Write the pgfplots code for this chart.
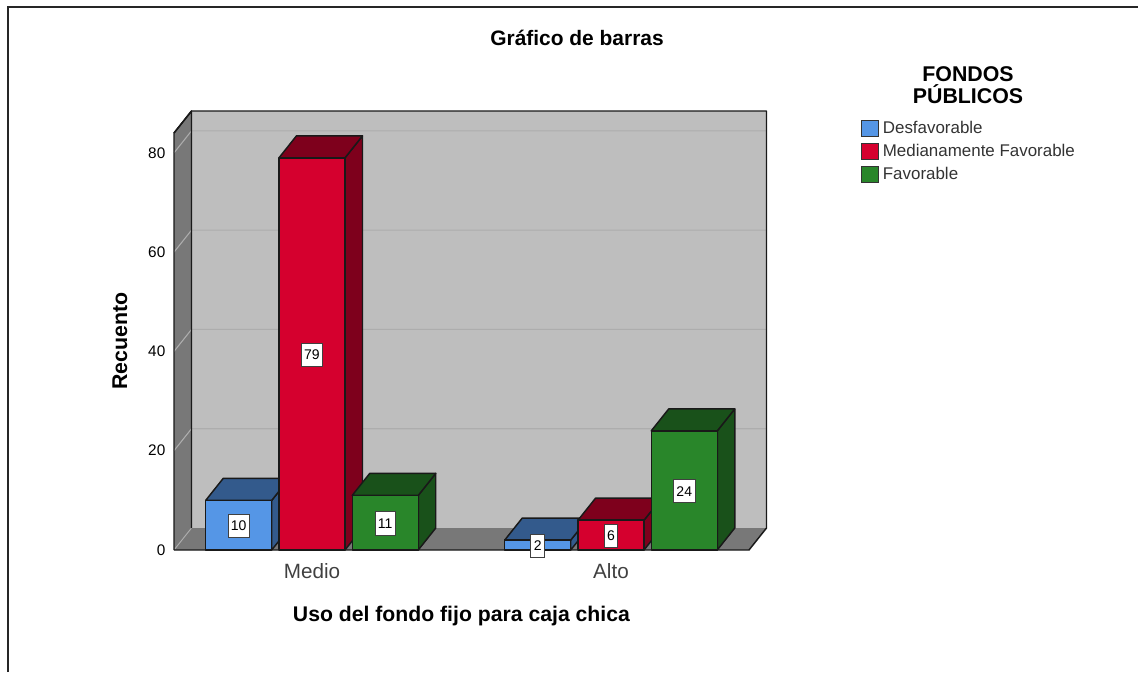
\documentclass[border=0pt]{standalone}
\usepackage{fontspec}
\setmainfont{Liberation Sans}
\usepackage{pgfplots}
\pgfplotsset{compat=1.18}
\definecolor{sblue}{HTML}{5596E6}
\definecolor{sbluedk}{HTML}{335A8C}
\definecolor{sred}{HTML}{D5002E}
\definecolor{sreddk}{HTML}{7E001C}
\definecolor{sgreen}{HTML}{29862A}
\definecolor{sgreendk}{HTML}{19511A}
\definecolor{wall}{HTML}{BEBEBE}
\definecolor{side}{HTML}{787878}
\definecolor{gridc}{HTML}{ADADAD}
\newcommand{\fs}[1]{\fontsize{#1}{#1}\selectfont}
\tikzset{face/.style={draw=black!90,line width=1.1pt,line join=round}}
% depth of the 3D box in axis units
\def\dx{0.0585}
\def\dy{4.43}
% #1 centre of the bar, #2 value, #3 front colour, #4 dark colour
\newcommand{\threedbar}[4]{%
  \pgfmathsetmacro\xl{#1-0.1104}%
  \pgfmathsetmacro\xr{#1+0.1104}%
  \pgfmathsetmacro\xlb{\xl+\dx}%
  \pgfmathsetmacro\xrb{\xr+\dx}%
  \pgfmathsetmacro\yb{#2+\dy}%
  \pgfmathsetmacro\ym{#2/2}%
  \addplot[face,fill=#4,forget plot] coordinates {(\xr,0)(\xrb,\dy)(\xrb,\yb)(\xr,#2)} --cycle;
  \addplot[face,fill=#4,forget plot] coordinates {(\xl,#2)(\xlb,\yb)(\xrb,\yb)(\xr,#2)} --cycle;
  \addplot[face,fill=#3,forget plot] coordinates {(\xl,0)(\xl,#2)(\xr,#2)(\xr,0)} --cycle;
  \addplot[draw=none,forget plot,point meta=explicit symbolic,nodes near coords,
    nodes near coords style={anchor=center,yshift=-0.6pt,fill=white,draw=black!75,line width=0.7pt,
      font=\fs{10.5},text=black,inner xsep=2.2pt,inner ysep=0pt,minimum height=17.5pt}]
    coordinates {(#1,\ym) [#2]};
}
\begin{document}
\begin{tikzpicture}
\path[use as bounding box] (0,0) rectangle (853.5pt,504pt);
\draw[line width=1.5pt,black!85] (6pt,0) -- (6pt,498.75pt) -- (853.5pt,498.75pt);
\begin{axis}[
  at={(130.5pt,91.5pt)}, anchor=south west,
  scale only axis, width=431.25pt, height=312.75pt,
  xmin=-0.4615, xmax=1.4615, ymin=0, ymax=84,
  clip=false, axis line style={draw=none}, major tick length=0pt,
  xtick={0,1}, xticklabels={Medio,Alto},
  ytick={0,20,40,60,80},
  /pgf/number format/assume math mode=true,
  y tick label style={font=\fs{11.5},xshift=-3pt},
  x tick label style={font=\fs{15.5},text=black!75,yshift=-6.8pt},
  title={\textbf{Gráfico de barras}},
  title style={font=\fs{15.7},at={(axis description cs:0.7009,1.2278)},anchor=center,yshift=-6pt},
  xlabel={\textbf{Uso del fondo fijo para caja chica}},
  xlabel style={font=\fs{15.9},at={(axis description cs:0.5,-0.158)},anchor=center},
  ylabel={\textbf{Recuento}},
  ylabel style={font=\fs{16},at={(axis description cs:-0.0939,0.501)},anchor=center,rotate=0},
  legend style={at={(axis description cs:1.1948,1.031)},anchor=north west,draw=none,fill=none,
    inner sep=0pt,row sep=4.5pt,
    nodes={font=\fs{12.7},text=black!80,inner ysep=0pt,inner xsep=3pt,text height=9.3pt,text depth=2.7pt}},
  legend cell align=left,
  legend image code/.code={\draw[#1] (0pt,-6pt) rectangle (12.5pt,6pt);},
]
% walls and floor
\addplot[fill=wall,draw=none,forget plot] coordinates {(-0.403,4.43)(-0.403,88.43)(1.52,88.43)(1.52,4.43)} --cycle;
\addplot[fill=side,draw=none,forget plot] coordinates {(-0.4615,0)(-0.403,4.43)(1.52,4.43)(1.4615,0)} --cycle;
\addplot[fill=side,draw=none,forget plot] coordinates {(-0.4615,0)(-0.4615,84)(-0.403,88.43)(-0.403,4.43)} --cycle;
% grid lines
\addplot[draw=gridc,line width=0.8pt,forget plot] coordinates {(-0.4615,20)(-0.403,24.43)(1.52,24.43)};
\addplot[draw=gridc,line width=0.8pt,forget plot] coordinates {(-0.4615,40)(-0.403,44.43)(1.52,44.43)};
\addplot[draw=gridc,line width=0.8pt,forget plot] coordinates {(-0.4615,60)(-0.403,64.43)(1.52,64.43)};
\addplot[draw=gridc,line width=0.8pt,forget plot] coordinates {(-0.4615,80)(-0.403,84.43)(1.52,84.43)};
\addplot[draw=gridc,line width=0.7pt,forget plot] coordinates {(-0.4615,0)(-0.403,4.43)};
% wall outlines
\addplot[face,forget plot] coordinates {(-0.4615,0)(-0.4615,84)(-0.403,88.43)(1.52,88.43)(1.52,4.43)(1.4615,0)(-0.4615,0)};
\addplot[face,forget plot] coordinates {(-0.4615,84)(-0.403,88.43)(-0.403,4.43)};
% Medio
\threedbar{-0.245}{10}{sblue}{sbluedk}
\threedbar{0}{79}{sred}{sreddk}
\threedbar{0.245}{11}{sgreen}{sgreendk}
% Alto
\threedbar{0.755}{2}{sblue}{sbluedk}
\threedbar{1}{6}{sred}{sreddk}
\threedbar{1.245}{24}{sgreen}{sgreendk}
\addlegendimage{draw=black!80,line width=0.7pt,fill=sblue}
\addlegendentry{Desfavorable}
\addlegendimage{draw=black!80,line width=0.7pt,fill=sred}
\addlegendentry{Medianamente Favorable}
\addlegendimage{draw=black!80,line width=0.7pt,fill=sgreen}
\addlegendentry{Favorable}
\end{axis}
\node[font=\fs{16},align=center,inner sep=0pt] at (726pt,440pt) {\textbf{FONDOS}\\[0.3pt]\textbf{PÚBLICOS}};
\end{tikzpicture}
\end{document}
